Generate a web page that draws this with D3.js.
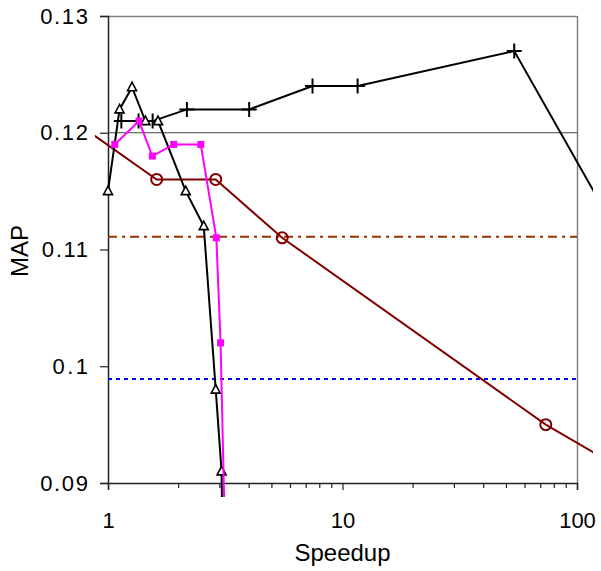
<!DOCTYPE html>
<html>
<head>
<meta charset="utf-8">
<script src="https://cdn.jsdelivr.net/npm/d3@7/dist/d3.min.js"></script>
<style>
  body { margin: 0; background: #fff; }
  svg { display: block; font-family: Arial, "Liberation Sans", sans-serif; }
</style>
</head>
<body>
<div id="chart"></div>
<script>
// values
const plusX = [1.14, 1.35, 1.55, 2.17, 4.0, 7.45, 11.6, 54.0, 300];
const plusY = [0.121, 0.121, 0.121, 0.122, 0.122, 0.124, 0.124, 0.127, 0.1006];

const triX = [1.0, 1.12, 1.266, 1.444, 1.634, 2.145, 2.56, 2.88, 3.05, 3.1];
const triY = [0.115, 0.122, 0.1239, 0.121, 0.121, 0.115, 0.112, 0.098, 0.091, 0.08];

const sqX = [1.068, 1.356, 1.546, 1.907, 2.486, 2.898, 3.02, 3.2];
const sqY = [0.119, 0.121, 0.118, 0.119, 0.119, 0.111, 0.102, 0.08];

const circX = [0.8, 1.613, 2.88, 5.53, 73.6, 330];
const circY = [0.1203, 0.116, 0.116, 0.111, 0.095, 0.0874];

const refLevels = [0.12, 0.1111, 0.0989];

const yTicks = [0.09, 0.1, 0.11, 0.12, 0.13];
const yTickLabels = ['0.09', '0.1', '0.11', '0.12', '0.13'];
const xMajor = [1, 10, 100];
const xMinor = [2, 3, 4, 5, 6, 7, 8, 9, 20, 30, 40, 50, 60, 70, 80, 90];

const width = 601, height = 571;
const margin = { top: 16, right: 24, bottom: 88, left: 108 };
const plotW = width - margin.left - margin.right;   // 469
const plotH = height - margin.top - margin.bottom;  // 467

const svg = d3.select('#chart').append('svg')
  .attr('width', width)
  .attr('height', height);

const x = d3.scaleLog().domain([1, 100]).range([0, plotW]);
const y = d3.scaleLinear().domain([0.09, 0.13]).range([plotH, 0]);

const g = svg.append('g').attr('transform', `translate(${margin.left}, ${margin.top})`);

// lines are allowed to spill a little past the plot box, like the original
svg.append('defs').append('clipPath').attr('id', 'spill')
  .append('rect')
  .attr('x', -13).attr('y', -14)
  .attr('width', plotW + 29).attr('height', plotH + 28);

// frame: grey top and right
g.append('line').attr('x1', 0).attr('x2', plotW).attr('y1', 0.5).attr('y2', 0.5)
  .attr('stroke', '#808080').attr('stroke-width', 1.5);
g.append('line').attr('x1', plotW + 0.5).attr('x2', plotW + 0.5).attr('y1', 0).attr('y2', plotH)
  .attr('stroke', '#808080').attr('stroke-width', 1.5);

// axes
const yAxis = g.append('g')
  .call(d3.axisLeft(y).tickValues(yTicks).tickSize(8).tickPadding(12)
    .tickFormat((d, i) => yTickLabels[i]));
yAxis.select('.domain').attr('stroke', '#222').attr('stroke-width', 1.5);
yAxis.selectAll('.tick line').attr('stroke', '#222').attr('stroke-width', 1.2);
yAxis.selectAll('text').attr('font-size', '22px').attr('fill', '#000')
  .attr('font-family', 'Arial, "Liberation Sans", sans-serif')
  .each(function () {
    // the original spaces the decimal point more loosely
    const len = this.getComputedTextLength();
    d3.select(this).attr('textLength', len + 5).attr('lengthAdjust', 'spacing');
  });

const xAxis = g.append('g').attr('transform', `translate(0, ${plotH})`)
  .call(d3.axisBottom(x).tickValues(xMajor).tickSize(7).tickPadding(22)
    .tickFormat(d3.format('d')));
xAxis.select('.domain').attr('stroke', '#222').attr('stroke-width', 1.5);
xAxis.selectAll('.tick line').attr('stroke', '#222').attr('stroke-width', 1.2);
xAxis.selectAll('text').attr('font-size', '22px').attr('fill', '#000')
  .attr('font-family', 'Arial, "Liberation Sans", sans-serif');

g.append('g').attr('transform', `translate(0, ${plotH})`)
  .selectAll('line').data(xMinor).enter().append('line')
  .attr('x1', d => x(d)).attr('x2', d => x(d))
  .attr('y1', 0).attr('y2', 5)
  .attr('stroke', '#222').attr('stroke-width', 1.2);

// axis titles
svg.append('text')
  .attr('x', margin.left + x(10)).attr('y', 561)
  .attr('text-anchor', 'middle').attr('font-size', '24px')
  .text('Speedup');
svg.append('text')
  .attr('transform', 'translate(28, 251) rotate(-90)')
  .attr('text-anchor', 'middle').attr('font-size', '24px')
  .text('MAP');

// horizontal reference lines
const refStyles = [
  { color: '#404040', width: 1.2, dash: null },
  { color: '#993300', width: 2, dash: '9,5,3,5' },
  { color: '#0000ff', width: 2, dash: '4,4' }
];
g.append('g').selectAll('line').data(refLevels).enter().append('line')
  .attr('x1', 0).attr('x2', plotW)
  .attr('y1', d => y(d)).attr('y2', d => y(d))
  .attr('stroke', (d, i) => refStyles[i].color)
  .attr('stroke-width', (d, i) => refStyles[i].width)
  .attr('stroke-dasharray', (d, i) => refStyles[i].dash);

const series = g.append('g').attr('clip-path', 'url(#spill)');
const line = d3.line().x(d => x(d[0])).y(d => y(d[1]));

function drawSeries(xs, ys, color) {
  const pts = xs.map((v, i) => [v, ys[i]]);
  series.append('path').datum(pts)
    .attr('d', line)
    .attr('fill', 'none')
    .attr('stroke', color)
    .attr('stroke-width', 2);
  return pts;
}

// brown circles
const circPts = drawSeries(circX, circY, '#800000');
series.append('g').selectAll('circle').data(circPts).enter().append('circle')
  .attr('cx', d => x(d[0])).attr('cy', d => y(d[1])).attr('r', 5.5)
  .attr('fill', 'none').attr('stroke', '#800000').attr('stroke-width', 2);

// black plus
const plusPts = drawSeries(plusX, plusY, '#000');
series.append('g').selectAll('path').data(plusPts).enter().append('path')
  .attr('d', d => {
    const px = x(d[0]), py = y(d[1]);
    return `M${px - 7.5},${py}H${px + 7.5}M${px},${py - 7.5}V${py + 7.5}`;
  })
  .attr('stroke', '#000').attr('stroke-width', 2);

// black triangles
const triPts = drawSeries(triX, triY, '#000');
series.append('g').selectAll('path').data(triPts).enter().append('path')
  .attr('d', d => {
    const px = x(d[0]), py = y(d[1]);
    return `M${px},${py - 5}L${px + 4.5},${py + 3.5}L${px - 4.5},${py + 3.5}Z`;
  })
  .attr('fill', '#fff').attr('stroke', '#000').attr('stroke-width', 1.6);

// magenta squares
const sqPts = drawSeries(sqX, sqY, '#ff00ff');
series.append('g').selectAll('rect').data(sqPts).enter().append('rect')
  .attr('x', d => x(d[0]) - 3.5).attr('y', d => y(d[1]) - 3.5)
  .attr('width', 7).attr('height', 7)
  .attr('fill', '#ff00ff');
</script>
</body>
</html>
